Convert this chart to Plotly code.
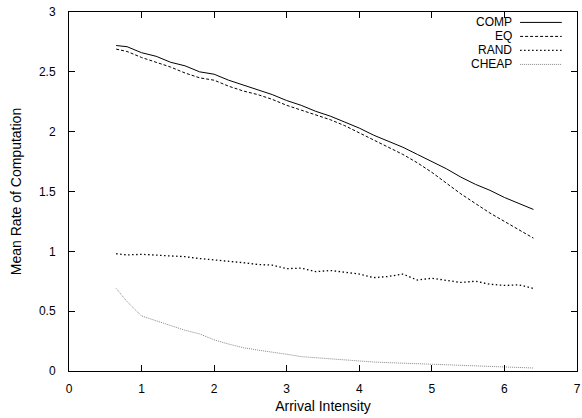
import plotly.graph_objects as go

x = [0.65, 0.8, 1.0, 1.2, 1.4, 1.6, 1.8, 2.0, 2.2, 2.4, 2.6, 2.8, 3.0, 3.2, 3.4,
     3.6, 3.8, 4.0, 4.2, 4.4, 4.6, 4.8, 5.0, 5.2, 5.4, 5.6, 5.8, 6.0, 6.2, 6.4]

comp = [2.72, 2.71, 2.66, 2.63, 2.58, 2.55, 2.50, 2.48, 2.43, 2.39, 2.35, 2.31, 2.26, 2.22, 2.17,
        2.13, 2.08, 2.03, 1.97, 1.92, 1.87, 1.81, 1.75, 1.69, 1.62, 1.56, 1.51, 1.45, 1.40, 1.35]
eq = [2.69, 2.67, 2.62, 2.58, 2.54, 2.49, 2.45, 2.43, 2.38, 2.34, 2.31, 2.27, 2.22, 2.18, 2.14,
      2.10, 2.05, 1.99, 1.93, 1.87, 1.81, 1.74, 1.66, 1.57, 1.48, 1.40, 1.32, 1.25, 1.18, 1.11]
rand = [0.98, 0.97, 0.975, 0.97, 0.965, 0.955, 0.94, 0.93, 0.92, 0.905, 0.89, 0.885, 0.855, 0.86, 0.83,
        0.84, 0.825, 0.81, 0.78, 0.79, 0.81, 0.76, 0.775, 0.755, 0.74, 0.75, 0.725, 0.715, 0.72, 0.69]
cheap = [0.69, 0.58, 0.46, 0.42, 0.38, 0.34, 0.31, 0.26, 0.225, 0.195, 0.175, 0.16, 0.14, 0.12, 0.11,
         0.10, 0.09, 0.08, 0.075, 0.07, 0.065, 0.06, 0.055, 0.05, 0.045, 0.04, 0.035, 0.03, 0.03, 0.025]

names = ["COMP", "EQ", "RAND", "CHEAP"]
series = [comp, eq, rand, cheap]
styles = [("black", "solid", 1), ("black", "3px,2px", 1), ("black", "1.5px,2.5px", 1.3),
          ("#888888", "1px,1px", 1)]

fig = go.Figure()
for n, s, (c, d, w) in zip(names, series, styles):
    fig.add_trace(go.Scatter(x=x, y=s, mode="lines", name=n,
                             line=dict(color=c, width=w, dash=d), showlegend=False))

# custom gnuplot-style legend (text right, sample line to the right)
legend_y = [0.971, 0.932, 0.893, 0.854]
for n, (c, d, w), ly in zip(names, styles, legend_y):
    fig.add_annotation(x=0.875, y=ly, xref="paper", yref="paper", text=n, showarrow=False,
                       xanchor="right", yanchor="middle", font=dict(size=12, color="black"))
    fig.add_shape(type="line", xref="paper", yref="paper", x0=0.888, x1=0.970, y0=ly, y1=ly,
                  line=dict(color=c, width=w, dash=d))

axis_common = dict(showgrid=False, zeroline=False, showline=True, linecolor="black", linewidth=1,
                   mirror="ticks", ticks="inside", ticklen=6, tickcolor="black", automargin=False,
                   tickfont=dict(size=12, color="black"))

fig.update_layout(
    width=582, height=418,
    margin=dict(l=69, r=5, t=12, b=47),
    plot_bgcolor="white", paper_bgcolor="white",
    font=dict(family="Liberation Sans, Arial, sans-serif", size=12, color="black"),
    xaxis=dict(range=[0, 7], dtick=1, ticklabelstandoff=7,
               title=dict(text="Arrival Intensity", standoff=5), **axis_common),
    yaxis=dict(range=[0, 3], dtick=0.5, ticklabelstandoff=10,
               title=dict(text="Mean Rate of Computation", standoff=14), **axis_common),
)

fig.write_html("out.html", config={"displayModeBar": False},
               post_script="document.body.style.margin='0';document.body.style.overflow='hidden';")
